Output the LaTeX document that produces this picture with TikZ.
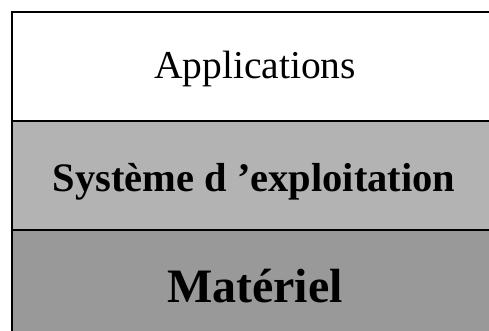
\documentclass[tikz,border=0pt]{standalone}
\usepackage{fontspec}
\setmainfont{Liberation Serif}
\definecolor{midgray}{RGB}{179,179,179}
\definecolor{lowgray}{RGB}{153,153,153}
\tikzset{
  layer/.style={draw=black, line width=2pt},
  lbl/.style={anchor=base, inner sep=0pt, text=black}
}
\begin{document}
\begin{tikzpicture}[x=1pt,y=-1pt]
\useasboundingbox (0,0) rectangle (489,331);
\begin{scope}
\clip (0,0) rectangle (489,331);
\draw[layer, fill=white] (12,12) rectangle (520,121);
\draw[layer, fill=midgray] (12,121) rectangle (520,230);
\draw[layer, fill=lowgray] (12,230) rectangle (520,360);
\end{scope}
\node[lbl, font=\fontsize{39.5}{44}\selectfont] (app) at (255,79) {Applications};
\node[lbl, font=\fontsize{40.5}{46}\selectfont\bfseries] (os) at (254,191) {Système d ’exploitation};
\node[lbl, font=\fontsize{48}{54}\selectfont\bfseries] (hw) at (255,302) {Matériel};
\end{tikzpicture}
\end{document}
